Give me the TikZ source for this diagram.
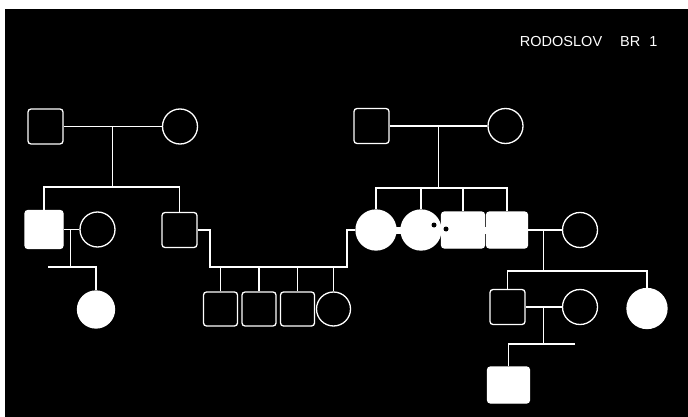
\documentclass[tikz,border=0pt]{standalone}
\usepackage{fontspec}
\newfontfamily\titlefont{Liberation Sans}
\usepackage{tikz}
\usetikzlibrary{calc}

\tikzstyle{male}=[draw, rectangle, rounded corners=3pt, minimum size=35pt, inner sep=0pt]
\tikzstyle{female}=[draw, circle, minimum size=35pt, inner sep=0pt]
\tikzstyle{affected}=[fill=white]

\begin{document}
\begin{tikzpicture}[x=1pt, y=-1pt, white, line width=1.3pt]
        % screen
        \fill[white] (0,0) rectangle (688,417);
        \fill[black] (5,9) rectangle (688,417);
        \useasboundingbox (0,0) rectangle (688,417);
        \node[anchor=base west, font=\titlefont\fontsize{14.5}{17}\selectfont] (title) at (516,47) {RODOSLOV\hspace{18pt}BR\hspace{9pt}1};

        % generation I
        \node[male] (i1) at (45.5,126.5) {};
        \node[female] (i2) at (180,126.5) {};
        \node[male] (i3) at (371.5,126) {};
        \node[female] (i4) at (505.5,126) {};

        % generation II
        \node[male, affected, minimum size=38pt] (ii1) at (44,229.5) {};
        \node[female] (ii2) at (97.5,229.5) {};
        \node[male] (ii3) at (179.5,230) {};
        \draw[line width=7pt] (376,230) -- (507,230);
        \node[female, affected, minimum size=40pt] (ii4) at (376,230) {};
        \node[female, affected, minimum size=40pt] (ii5) at (421,230) {};
        \node[male, affected, minimum width=43pt, minimum height=36pt] (ii6) at (463,230) {};
        \node[male, affected, minimum width=41pt, minimum height=36pt] (ii7) at (507,230) {};
        \node[female] (ii8) at (580,230) {};
        \fill[black] (434,225) circle (2.5);
        \fill[black] (446,229) circle (2.5);

        % generation III
        \node[female, affected, minimum size=37pt] (iii1) at (96,309.5) {};
        \node[male, minimum size=34pt] (iii2) at (220.5,309) {};
        \node[male, minimum size=34pt] (iii3) at (259,309) {};
        \node[male, minimum size=34pt] (iii4) at (297.5,309) {};
        \node[female, minimum size=34pt] (iii5) at (333.5,309) {};
        \node[male] (iii6) at (507.5,307) {};
        \node[female] (iii7) at (580,307) {};
        \node[female, affected, minimum size=40pt] (iii8) at (647,308.5) {};

        % generation IV
        \node[male, affected, minimum width=42pt, minimum height=36pt] (iv1) at (508.5,385) {};

        % sibship lines
        \coordinate (s1) at (112.75,187);
        \coordinate (s2) at (438.5,188);
        \coordinate (s3) at (70.75,267);
        \coordinate (s3w) at (48,267);
        \coordinate (s4) at (543.5,271);
        \coordinate (s5) at (543.75,344);
        \coordinate (s5e) at (575,344);
        \coordinate (m1) at (210,267);
        \coordinate (m2) at (347,267);

        \draw (i1) -- (i2);
        \draw ($(i1)!.5!(i2)$) -- (s1);
        \draw (ii1.north) |- (s1) -| (ii3.north);

        \draw (i3) -- (i4);
        \draw ($(i3)!.5!(i4)$) -- (s2);
        \draw (ii4.north) |- (s2) -| (ii7.north);
        \foreach \k in {ii5,ii6}
          \draw (\k.north) -- (\k.north |- s2);

        \draw (ii1) -- (ii2);
        \draw ($(ii1)!.5!(ii2)$) -- (s3);
        \draw (s3w) -- (s3w -| iii1) -- (iii1.north);

        \draw (ii3.east) -| (m1) -- (m2) |- (ii4.west);
        \foreach \k in {iii2,iii3,iii4,iii5}
          \draw (\k.north) -- (\k.north |- m1);

        \draw (ii7) -- (ii8);
        \draw ($(ii7)!.5!(ii8)$) -- (s4);
        \draw (iii6.north) |- (s4) -| (iii8.north);

        \draw (iii6) -- (iii7);
        \draw ($(iii6)!.5!(iii7)$) -- (s5);
        \draw (s5e) -- (s5e -| iv1) -- (iv1.north);
      \end{tikzpicture}
\end{document}
